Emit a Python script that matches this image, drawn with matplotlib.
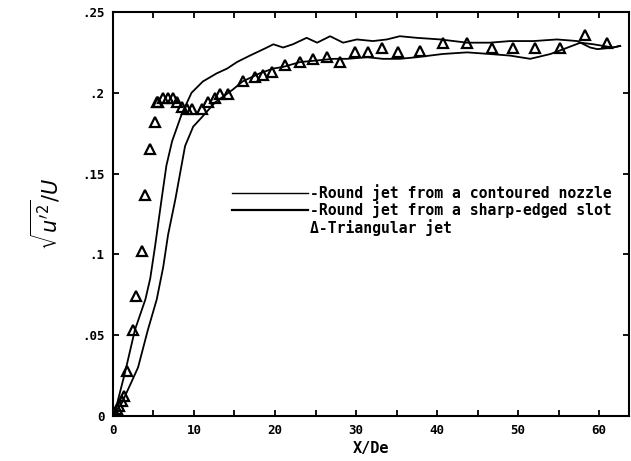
import numpy as np
import matplotlib
matplotlib.use("Agg")
from matplotlib import pyplot as plt
from matplotlib.lines import Line2D
from matplotlib.ticker import MultipleLocator

# turbulence intensity along the jet axis
# round jet, sharp-edged slot (rises earlier)
x_slot = [0, 0.25, 1.5, 2.7, 4.0, 4.6, 5.2, 6.0, 6.6, 7.3, 8.5, 9.7, 11.1, 12.8,
          14.1, 15.3, 16.9, 19.0, 19.8, 21.0, 22.2, 23.9, 25.2, 26.8, 28.4,
          30.1, 32.1, 33.8, 35.4, 37.5, 40.4, 43.7, 46.5, 49.0, 51.9, 54.8,
          57.3, 58.9, 59.8, 61.7, 62.6]
y_slot = [0, 0.0025, 0.027, 0.053, 0.072, 0.085, 0.105, 0.134, 0.155, 0.170,
          0.187, 0.200, 0.207, 0.212, 0.215, 0.219, 0.223, 0.228, 0.230, 0.228,
          0.230, 0.234, 0.231, 0.235, 0.231, 0.233, 0.232, 0.233, 0.235, 0.234,
          0.233, 0.231, 0.231, 0.232, 0.232, 0.233, 0.232, 0.228, 0.227, 0.228,
          0.229]

# round jet, contoured nozzle
x_nozzle = [0, 1.1, 2.2, 3.1, 4.3, 5.4, 6.2, 6.8, 7.7, 8.9, 9.9, 11.0, 12.6,
            14.8, 16.0, 18.1, 19.8, 21.0, 23.1, 25.2, 27.2, 28.9, 31.4, 33.3,
            35.4, 37.5, 40.7, 43.7, 46.5, 49.0, 51.5, 54.0, 55.6, 57.7, 59.3,
            61.7, 62.6]
y_nozzle = [0, 0.008, 0.020, 0.030, 0.053, 0.072, 0.092, 0.112, 0.134, 0.167,
            0.179, 0.185, 0.194, 0.202, 0.207, 0.212, 0.215, 0.216, 0.219, 0.220,
            0.221, 0.221, 0.222, 0.221, 0.221, 0.222, 0.224, 0.225, 0.224, 0.223,
            0.221, 0.224, 0.227, 0.231, 0.230, 0.228, 0.229]

# triangular jet
x_tri = [0.2, 0.5, 0.8, 1.1, 1.4, 1.7, 2.5, 2.9, 3.6, 4.0, 4.6, 5.2, 5.4, 5.6,
         6.2, 6.8, 7.4, 7.9, 8.5, 9.1, 9.8, 11.0, 11.7, 12.6, 13.2, 14.2, 16.0,
         17.5, 18.5, 19.6, 21.2, 23.1, 24.7, 26.4, 28.0, 29.9, 31.5, 33.2, 35.2,
         37.9, 40.7, 43.7, 46.8, 49.4, 52.1, 55.2, 58.3, 61.0]
y_tri = [0.002, 0.004, 0.006, 0.009, 0.012, 0.028, 0.053, 0.074, 0.102, 0.137,
         0.165, 0.182, 0.194, 0.194, 0.197, 0.197, 0.197, 0.194, 0.191, 0.190,
         0.190, 0.190, 0.194, 0.197, 0.199, 0.199, 0.207, 0.210, 0.211, 0.213,
         0.217, 0.219, 0.221, 0.222, 0.219, 0.225, 0.225, 0.228, 0.225, 0.226,
         0.231, 0.231, 0.228, 0.228, 0.228, 0.228, 0.236, 0.231]

x_ticks = [0, 10, 20, 30, 40, 50, 60]
y_ticks = [0, 0.05, 0.1, 0.15, 0.2, 0.25]
y_ticklabels = ["0", ".05", ".1", ".15", ".2", ".25"]

fnt = "DejaVu Sans Mono"

fig = plt.figure(figsize=(6.31, 4.61), dpi=100)
ax = fig.add_axes([0.179, 0.098, 0.818, 0.876])

ax.plot(x_nozzle, y_nozzle, color="black", lw=1.3)
ax.plot(x_slot, y_slot, color="black", lw=1.3)
ax.plot(x_tri, y_tri, ls="none", marker="^", ms=7, mfc="none",
        mec="black", mew=1.6)

ax.set_xlim(0, 63.7)
ax.set_ylim(0, 0.25)
ax.set_xticks(x_ticks)
ax.set_yticks(y_ticks)
ax.set_yticklabels(y_ticklabels)
ax.xaxis.set_minor_locator(MultipleLocator(5))
ax.tick_params(which="both", direction="in", top=True, right=True,
               length=4, width=1.3)
ax.tick_params(axis="both", labelsize=9, pad=6)
for lab in ax.get_xticklabels() + ax.get_yticklabels():
    lab.set_fontfamily(fnt)
    lab.set_fontweight("bold")
for s in ax.spines.values():
    s.set_linewidth(1.5)

ax.set_xlabel("X/De", fontfamily=fnt, fontweight="bold", fontsize=11, labelpad=3)
ax.set_ylabel(r"$\sqrt{u'^2}/U$", fontsize=15, labelpad=14)

handles = [Line2D([], [], color="black", lw=1.0),
           Line2D([], [], color="black", lw=1.6),
           Line2D([], [], color="none")]
labels = ["-Round jet from a contoured nozzle",
          "-Round jet from a sharp-edged slot",
          "\u0394-Triangular jet"]
leg = ax.legend(handles, labels, loc="upper left", bbox_to_anchor=(0.23, 0.574),
                frameon=False, handlelength=5.2, handletextpad=0.1,
                labelspacing=0.04, borderpad=0, borderaxespad=0,
                prop={"family": fnt, "weight": "bold", "size": 10.6})

fig.savefig("out.png", dpi=100)
